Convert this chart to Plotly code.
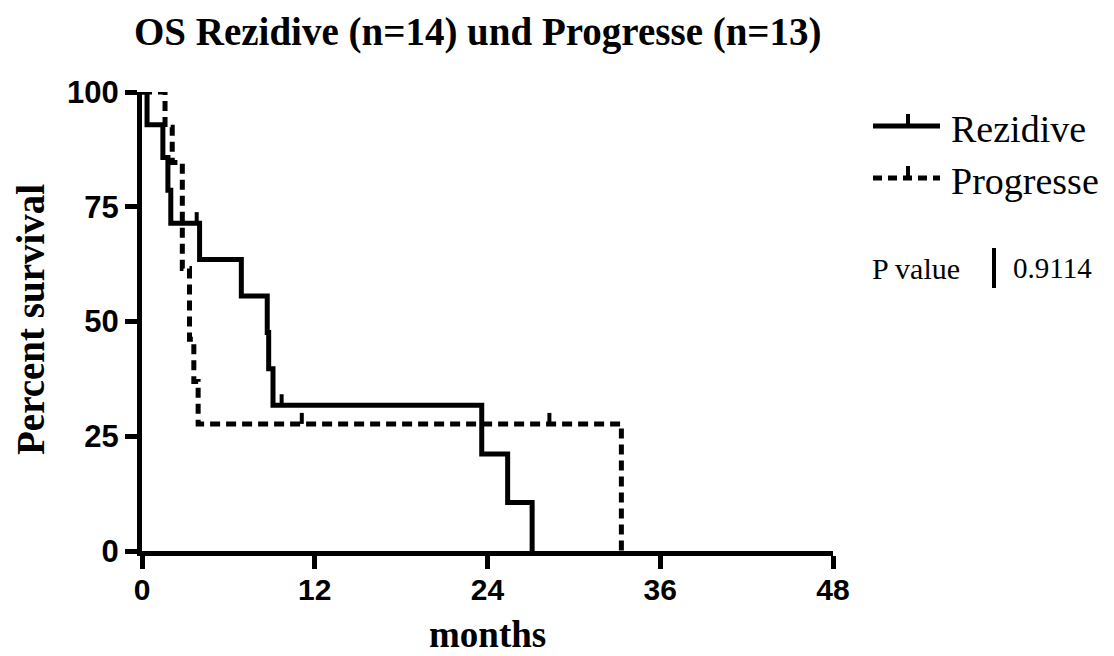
import plotly.graph_objects as go

# ---- data ----
rez_time = [0, 0.35, 1.45, 1.8, 2.0, 4.0, 6.9, 8.7, 8.8, 9.1, 23.6, 25.4, 27.1]
rez_surv = [100, 92.86, 85.71, 78.57, 71.43, 63.49, 55.56, 47.62, 39.68, 31.75, 21.16, 10.58, 0]
rez_cens_time = [3.8, 9.7]
rez_cens_surv = [71.43, 31.75]

pro_time = [0, 1.6, 2.1, 2.8, 3.3, 3.6, 3.9, 33.3]
pro_surv = [100, 92.31, 84.62, 61.54, 46.15, 36.92, 27.69, 0]
pro_cens_time = [11.1, 28.3]
pro_cens_surv = [27.69, 27.69]

x_ticks = [0, 12, 24, 36, 48]
y_ticks = [0, 25, 50, 75, 100]
series_names = ["Rezidive", "Progresse"]
p_value_text = "0.9114"
title_text = "OS Rezidive (n=14) und Progresse (n=13)"

W, H = 1114, 656
L, R, T, B = 142, 833, 92, 551  # plot area in pixels
TICK_UP = 2.4  # censor tick height in percent units

def seg(times, survs):
    xs, ys = [], []
    for t, s in zip(times, survs):
        xs += [t, t, None]
        ys += [s, s + TICK_UP, None]
    return xs, ys

fig = go.Figure()
fig.add_trace(go.Scatter(x=rez_time, y=rez_surv, mode="lines", line_shape="hv",
                         line=dict(color="black", width=5), cliponaxis=False,
                         showlegend=False))
fig.add_trace(go.Scatter(x=pro_time, y=pro_surv, mode="lines", line_shape="hv",
                         line=dict(color="black", width=5, dash="10px,6px"),
                         cliponaxis=False, showlegend=False))
cx, cy = seg(rez_cens_time + pro_cens_time, rez_cens_surv + pro_cens_surv)
fig.add_trace(go.Scatter(x=cx, y=cy, mode="lines", line=dict(color="black", width=4),
                         cliponaxis=False, showlegend=False))

def px(xpix):
    return (xpix - L) / (R - L)

def py(ypix):
    return (B - ypix) / (B - T)

shapes = [
    dict(type="line", xref="paper", yref="paper", x0=px(873), x1=px(940), y0=py(126), y1=py(126),
         line=dict(color="black", width=5)),
    dict(type="line", xref="paper", yref="paper", x0=px(908), x1=px(908), y0=py(126), y1=py(114),
         line=dict(color="black", width=4)),
    dict(type="line", xref="paper", yref="paper", x0=px(873), x1=px(940), y0=py(178), y1=py(178),
         line=dict(color="black", width=5, dash="9px,6px")),
    dict(type="line", xref="paper", yref="paper", x0=px(908), x1=px(908), y0=py(178), y1=py(166),
         line=dict(color="black", width=4)),
    dict(type="line", xref="paper", yref="paper", x0=px(994), x1=px(994), y0=py(248), y1=py(288),
         line=dict(color="black", width=4)),
]

serif = "Liberation Serif"
annotations = [
    dict(text=series_names[0], xref="paper", yref="paper", x=px(949), y=py(129), xanchor="left",
         yanchor="middle", showarrow=False, font=dict(family=serif, size=38, color="black")),
    dict(text=series_names[1], xref="paper", yref="paper", x=px(949), y=py(181), xanchor="left",
         yanchor="middle", showarrow=False, font=dict(family=serif, size=38, color="black")),
    dict(text="P value", xref="paper", yref="paper", x=px(870), y=py(268), xanchor="left",
         yanchor="middle", showarrow=False, font=dict(family=serif, size=30, color="black")),
    dict(text=p_value_text, xref="paper", yref="paper", x=px(1011), y=py(268), xanchor="left",
         yanchor="middle", showarrow=False, font=dict(family=serif, size=29, color="black")),
    dict(text="<b>Percent survival</b>", xref="paper", yref="paper", x=px(30), y=py(320),
         xanchor="center", yanchor="middle", textangle=-90, showarrow=False,
         font=dict(family=serif, size=39, color="black")),
    dict(text="<b>months</b>", xref="paper", yref="paper", x=px(487), y=py(634),
         xanchor="center", yanchor="middle", showarrow=False,
         font=dict(family=serif, size=37, color="black")),
    dict(text="<b>" + title_text + "</b>", xref="paper", yref="paper", x=px(478), y=py(32),
         xanchor="center", yanchor="middle", showarrow=False,
         font=dict(family=serif, size=39, color="black")),
]

fig.update_layout(
    width=W, height=H, margin=dict(l=L, r=W - R, t=T, b=H - B),
    paper_bgcolor="white", plot_bgcolor="white",
    shapes=shapes, annotations=annotations, showlegend=False,
    xaxis=dict(range=[0, 48], tickvals=x_ticks, ticktext=[str(v) for v in x_ticks],
               showline=True, linewidth=5, linecolor="black", ticks="outside",
               ticklen=13, tickwidth=5, tickcolor="black", showgrid=False, zeroline=False,
               ticklabelstandoff=-5,
               tickfont=dict(family="Liberation Sans", size=30, color="black", weight="bold")),
    yaxis=dict(range=[0, 100], tickvals=y_ticks, ticktext=[str(v) for v in y_ticks],
               showline=True, linewidth=5, linecolor="black", ticks="outside",
               ticklen=12, tickwidth=5, tickcolor="black", showgrid=False, zeroline=False,
               tickfont=dict(family="Liberation Sans", size=31, color="black", weight="bold")),
)

fig.write_html("out.html")
